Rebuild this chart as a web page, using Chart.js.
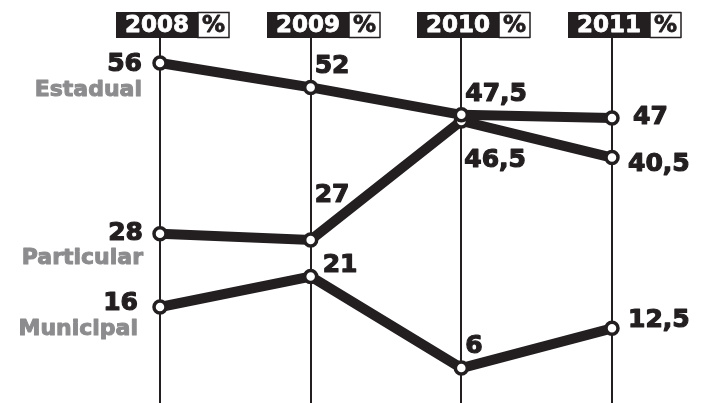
<!DOCTYPE html>
<html>
<head>
<meta charset="utf-8">
<script src="https://cdn.jsdelivr.net/npm/chart.js@4/dist/chart.umd.min.js"></script>
<style>
  html, body { margin: 0; padding: 0; background: #fff; }
  #wrap { width: 701px; height: 403px; position: relative; }
</style>
</head>
<body>
<div id="wrap"><canvas id="chart"></canvas></div>
<script>
(function () {
    "use strict";

    // data
    const years = ["2008", "2009", "2010", "2011"];
    const seriesNames = ["Estadual", "Particular", "Municipal"];
    const estadual = [56, 52, 47.5, 47];
    const particular = [28, 27, 46.5, 40.5];
    const municipal = [16, 21, 6, 12.5];
    const unitLabel = "%";

    // where each value label sits relative to its point: [dx, dy, align]
    const labelPlace = [
        [[-18, 1, "right"], [4, -21, "left"], [4, -20, "left"], [21, 0, "left"]],
        [[-17, 0, "right"], [4, -44, "left"], [3, 40, "left"], [16, 7, "left"]],
        [[-22, -4, "right"], [12, -11, "left"], [4, -22, "left"], [16, -8, "left"]],
    ];
    const namePlace = [[-18, 27], [-17, 24], [-22, 22]];

    const ink = "#231f20";
    const grey = "#8c8c8e";
    const font = "'DejaVu Sans', sans-serif";

    const fmt = (v) => String(v).replace(".", ",");

    // heavy text: fill plus a thin stroke of the same colour
    function heavyText(ctx, txt, x, y, color, w) {
        ctx.fillStyle = color;
        ctx.strokeStyle = color;
        ctx.lineWidth = w;
        ctx.lineJoin = "round";
        ctx.strokeText(txt, x, y);
        ctx.fillText(txt, x, y);
    }

    const gridAndHeaders = {
        id: "gridAndHeaders",
        beforeDatasetsDraw(chart) {
            const ctx = chart.ctx;
            const x = chart.scales.x;
            ctx.save();
            ctx.strokeStyle = ink;
            ctx.lineWidth = 2;
            years.forEach((y, i) => {
                const px = Math.round(x.getPixelForValue(i));
                ctx.beginPath();
                ctx.moveTo(px, 38);
                ctx.lineTo(px, chart.height);
                ctx.stroke();
            });
            ctx.restore();
        },
        afterDraw(chart) {
            const ctx = chart.ctx;
            const x = chart.scales.x;
            const ys = chart.scales.y;
            ctx.save();
            ctx.textBaseline = "middle";

            // year boxes
            years.forEach((y, i) => {
                const px = Math.round(x.getPixelForValue(i));
                ctx.fillStyle = ink;
                ctx.fillRect(px - 44, 12, 82, 26);
                ctx.fillStyle = "#fff";
                ctx.fillRect(px + 38, 12, 31, 26);
                ctx.strokeStyle = ink;
                ctx.lineWidth = 1.5;
                ctx.strokeRect(px + 38, 12.5, 31, 25);
                ctx.font = "bold 23px " + font;
                ctx.textAlign = "center";
                heavyText(ctx, y, px - 3, 26, "#fff", 0.8);
                heavyText(ctx, unitLabel, px + 53.5, 26, ink, 0.8);
            });

            // value labels
            ctx.font = "bold 25px " + font;
            chart.data.datasets.forEach((ds, d) => {
                ds.data.forEach((v, i) => {
                    const p = labelPlace[d][i];
                    const px = x.getPixelForValue(i);
                    const py = ys.getPixelForValue(v);
                    ctx.textAlign = p[2];
                    heavyText(ctx, fmt(v), px + p[0], py + p[1], ink, 1.2);
                });
            });

            // series names
            ctx.font = "bold 22px " + font;
            ctx.textAlign = "right";
            chart.data.datasets.forEach((ds, d) => {
                const px = x.getPixelForValue(0);
                const py = ys.getPixelForValue(ds.data[0]);
                heavyText(ctx, ds.label, px + namePlace[d][0], py + namePlace[d][1], grey, 1);
            });
            ctx.restore();
        },
    };

    const lineStyle = {
        borderColor: ink,
        borderWidth: 10,
        pointRadius: 6,
        pointHoverRadius: 6,
        pointBorderWidth: 3.5,
        pointBackgroundColor: "#fff",
        pointBorderColor: ink,
        tension: 0,
        clip: false,
    };

    const ctx = document.getElementById("chart").getContext("2d");
    new Chart(ctx, {
        type: "line",
        data: {
            labels: years,
            datasets: [
                Object.assign({ label: seriesNames[0], data: estadual }, lineStyle),
                Object.assign({ label: seriesNames[1], data: particular }, lineStyle),
                Object.assign({ label: seriesNames[2], data: municipal }, lineStyle),
            ],
        },
        options: {
            responsive: true,
            maintainAspectRatio: false,
            animation: false,
            layout: { autoPadding: false, padding: { left: 160, right: 89, top: 2, bottom: 4.5 } },
            scales: {
                x: { display: false, offset: false },
                y: { display: false, min: 1, max: 66 },
            },
            plugins: {
                legend: { display: false },
                tooltip: { enabled: false },
            },
        },
        plugins: [gridAndHeaders],
    });
})();
</script>
</body>
</html>
